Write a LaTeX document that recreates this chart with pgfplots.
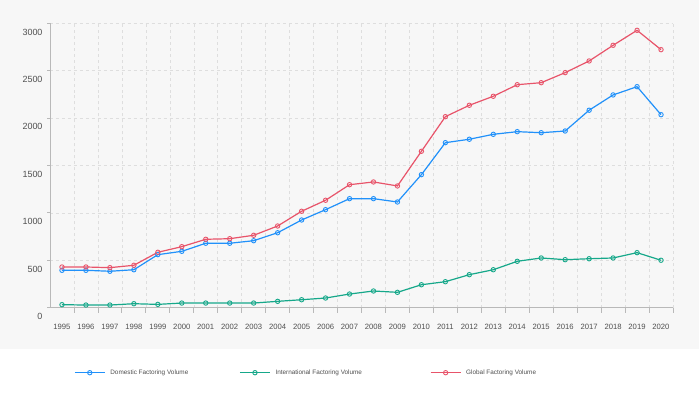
\documentclass[border=0pt]{standalone}
\usepackage{fontspec}
\setmainfont{Liberation Sans}
\usepackage{pgfplots}
\usepackage{pgfplotstable}
\pgfplotsset{compat=1.18}
\definecolor{dom}{RGB}{33,145,250}
\definecolor{intl}{RGB}{22,168,138}
\definecolor{glob}{RGB}{232,84,106}
\definecolor{bg}{RGB}{247,247,247}
\definecolor{gridc}{RGB}{222,222,222}
\definecolor{axc}{RGB}{185,185,185}
\definecolor{txt}{RGB}{80,80,80}

\pgfplotstableread{
year dom intl glob
1995 394 32 429
1996 394 28 429
1997 384 28 422
1998 400 42 447
1999 559 35 584
2000 594 49 643
2001 679 49 721
2002 679 49 727
2003 706 49 763
2004 790 67 861
2005 924 84 1016
2006 1033 102 1132
2007 1149 144 1296
2008 1149 176 1325
2009 1114 162 1283
2010 1402 242 1648
2011 1739 274 2013
2012 1775 348 2133
2013 1827 400 2228
2014 1855 489 2350
2015 1844 524 2371
2016 1862 506 2477
2017 2081 516 2600
2018 2242 524 2765
2019 2329 580 2923
2020 2034 500 2719
}\datatable

\begin{document}
\begin{tikzpicture}
\fill[white] (0bp,0bp) rectangle (699bp,396bp);
\fill[bg] (0bp,47bp) rectangle (699bp,396bp);
\begin{axis}[
  at={(50bp,88.3bp)}, anchor=south west,
  scale only axis, width=623bp, height=284.7bp,
  xmin=1994.5, xmax=2020.5, ymin=0, ymax=3000,
  xtick={1995,...,2020},
  minor xtick={1995.5,1996.5,...,2020.5},
  ytick={0,500,...,3000},
  axis lines*=left,
  axis line style={-, axc, line width=0.8bp},
  ymajorgrids, xminorgrids,
  grid style={dashed, gridc, line width=0.5bp},
  minor grid style={dashed, gridc, line width=0.5bp},
  tick align=outside,
  major tick length=3bp, minor tick length=5bp,
  tick style={axc, line width=0.8bp},
  every major x tick/.append style={draw=none},
  /pgf/number format/assume math mode=true,
  /pgf/number format/1000 sep={},
  xticklabel style={font=\fontsize{7.7}{9}\selectfont, text=txt, anchor=center, yshift=-16bp},
  yticklabel style={font=\fontsize{9}{10}\selectfont, text=txt, anchor=east, yshift=-9bp, xshift=-1bp},
  clip=false,
  legend columns=3,
  legend style={at={(0.0385,-0.2283)}, anchor=west, draw=none, fill=none,
    inner sep=0pt, font=\fontsize{6.4}{7}\selectfont, text=txt,
    cells={anchor=west, inner sep=0pt},
    /tikz/every odd column/.append style={column sep=3bp}},
  legend image code/.code={\draw[mark repeat=2,mark phase=2] plot coordinates {(0bp,0bp)(15bp,0bp)(30bp,0bp)};},
  every axis plot/.append style={line width=1.2bp, mark=o, mark size=2.2bp,
    mark options={fill=white, line width=0.9bp}},
]
\addplot[dom] table[x=year, y=dom] {\datatable};
\addlegendentry{\makebox[127bp][l]{Domestic Factoring Volume}}
\addplot[intl] table[x=year, y=intl] {\datatable};
\addlegendentry{\makebox[152.5bp][l]{International Factoring Volume}}
\addplot[glob] table[x=year, y=glob] {\datatable};
\addlegendentry{\makebox[100bp][l]{Global Factoring Volume}}
\end{axis}
\end{tikzpicture}
\end{document}
